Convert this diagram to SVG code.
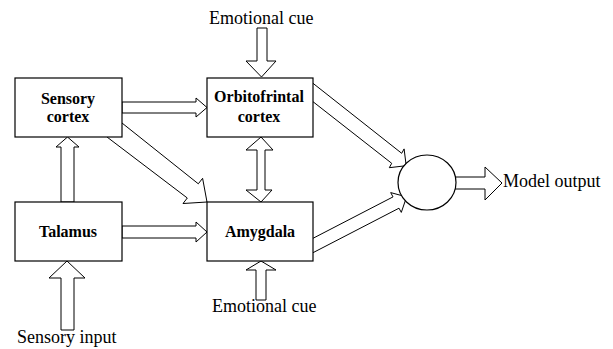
<svg xmlns="http://www.w3.org/2000/svg" width="613" height="349" viewBox="0 0 613 349">
<style>
.arr{fill:#fff;stroke:#000;stroke-width:1;stroke-linejoin:miter}
.box{fill:#fff;stroke:#000;stroke-width:1.2}
.lbl{font-family:"Liberation Serif","Times New Roman",serif;font-size:16px;font-weight:bold;fill:#000;text-anchor:middle}
.txt{font-family:"Liberation Serif","Times New Roman",serif;font-size:18px;fill:#000}
</style>
<rect width="613" height="349" fill="#fff"/>
<g id="connectors">
  <polygon class="arr" points="122,102 196,102 196,98 207,107.5 196,117 196,113 122,113"/>
  <polygon class="arr" points="122,226 196,226 196,222 207,232 196,242 196,238 122,238"/>
  <polygon class="arr" points="257,28 267,28 267,61 276,61 261.5,77 246,61 257,61"/>
  <polygon class="arr" points="261,137 273,150 265,150 265,190 272,190 261,202 246,190 257,190 257,150 246,150"/>
  <polygon class="arr" points="67.5,137 79,147 74,147 74,202 61,202 61,147 56,147"/>
  <polygon class="arr" points="61,330 61,278 49,278 67,261 85,278 74,278 74,330"/>
  <polygon class="arr" points="256,300 256,270 246,270 261,261 276,270 266,270 266,300"/>
  <path class="arr" d="M107,137 L187.3,198 L183,203.5 L207,202 L202.6,178.3 L198.3,183.8 L122,123"/>
  <path class="arr" d="M313,83.3 L401.7,153.3 L404.1,148.9 L406.2,165.7 L389.3,167.7 L391.7,163.3 L313,101.7"/>
  <path class="arr" d="M313,238.3 L393,196.9 L390.7,192.6 L406.6,196.9 L401.3,212.4 L399,208.2 L313,252.7"/>
  <polygon class="arr" points="450,177 485,177 485,167 502,183 485,200 485,189 450,189"/>
</g>
<g id="sensory-cortex">
  <rect class="box" x="15" y="78" width="107" height="59"/>
  <text class="lbl" x="68" y="104">Sensory</text>
  <text class="lbl" x="68" y="122">cortex</text>
</g>
<g id="orbitofrontal-cortex">
  <rect class="box" x="207" y="78" width="106" height="59"/>
  <text class="lbl" x="259" y="102">Orbitofrintal</text>
  <text class="lbl" x="259" y="122">cortex</text>
</g>
<g id="talamus">
  <rect class="box" x="15" y="202" width="107" height="59"/>
  <text class="lbl" x="68" y="237">Talamus</text>
</g>
<g id="amygdala">
  <rect class="box" x="207" y="202" width="106" height="59"/>
  <text class="lbl" x="260" y="237">Amygdala</text>
</g>
<g id="sum-node">
  <ellipse class="box" cx="427" cy="182.5" rx="29" ry="27.5"/>
</g>
<g id="labels">
  <text class="txt" x="209" y="24">Emotional cue</text>
  <text class="txt" x="212" y="312">Emotional cue</text>
  <text class="txt" x="17" y="343">Sensory input</text>
  <text class="txt" x="503" y="187">Model output</text>
</g>
</svg>
